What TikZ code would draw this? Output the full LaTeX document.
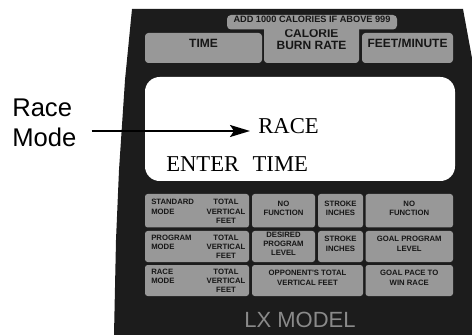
\documentclass[tikz,border=0pt]{standalone}
\usepackage{fontspec}
\setmainfont{Liberation Serif}
\newfontfamily\arial{Liberation Sans}
\usetikzlibrary{fit,arrows.meta}
\definecolor{panel}{RGB}{28,28,28}
\definecolor{keygrey}{RGB}{152,152,152}
\definecolor{ink}{RGB}{22,22,22}
\definecolor{lxgrey}{RGB}{138,138,138}
\tikzset{
  key/.style={fill=keygrey, rounded corners=2.5pt, inner sep=0pt, text=ink, align=center,
    font=\arial\bfseries\fontsize{9}{9.6}\selectfont},
  cell/.style={fill=keygrey, rounded corners=2pt, inner sep=0pt, text=ink, align=center,
    font=\arial\bfseries\fontsize{5.8}{6.9}\selectfont},
  celltxt/.style={inner sep=0pt, text=ink,
    font=\arial\bfseries\fontsize{5.8}{6.9}\selectfont},
  lcd/.style={inner sep=0pt, text=black, font=\fontsize{17}{20}\selectfont},
  pointer/.style={line width=1.5pt, -{Stealth[length=15pt,width=9pt,inset=3pt]}},
}
\begin{document}
\begin{tikzpicture}[x=0.75pt,y=-0.75pt]
\useasboundingbox (0,0) rectangle (472,335);
% panel
\fill[panel] (132,9) -- (463,9) -- (472,58) -- (472,335) -- (114,335)
  -- (116,240) -- (119,170) -- (125,80) -- cycle;
% top keys
\node[key, fit={(264,24) (359,63)}] (calorie) {CALORIE\\BURN RATE};
\node[key, rounded corners=3pt, fit={(227,15) (397,29.5)}, font=\arial\bfseries\fontsize{6.9}{7}\selectfont] (add) {ADD 1000 CALORIES IF ABOVE 999};
\node[key, fit={(145,33) (262,63)}] (time) {TIME};
\node[key, fit={(362,33) (453,63)}] (feet) {FEET/MINUTE};
% display
\node[fill=white, rounded corners=11pt, inner sep=0pt, fit={(145,77) (455,181)}] (display) {};
\node[lcd, anchor=base west] (race) at (258,133.5) {RACE};
\node[lcd, anchor=base west] (enter) at (166,171.5) {ENTER\hspace{10pt}TIME};
% left label
\node[inner sep=0pt, align=left, anchor=north west, font=\arial\fontsize{19.2}{22.5}\selectfont]
  (label) at (12,98.3) {Race\\Mode};
\coordinate (tip) at (250,131);
\draw[pointer] (label.east |- tip) ++(15,0) -- (tip);
% grid row 1
\node[cell, fit={(145,194) (249,227.5)}] (r1c1) {};
\node[cell, fit={(252,194) (315,227.5)}] (r1c2) {NO\\FUNCTION};
\node[cell, fit={(318,194) (363,227.5)}] (r1c3) {STROKE\\INCHES};
\node[cell, fit={(365.5,194) (453,227.5)}] (r1c4) {NO\\FUNCTION};
% grid row 2
\node[cell, fit={(145,231) (249,262)}] (r2c1) {};
\node[cell, fit={(252,231) (315,262)}] (r2c2) {DESIRED\\PROGRAM\\LEVEL};
\node[cell, fit={(318,231) (363,262)}] (r2c3) {STROKE\\INCHES};
\node[cell, fit={(365.5,231) (453,262)}] (r2c4) {GOAL PROGRAM\\LEVEL};
% grid row 3
\node[cell, fit={(145,265) (249,296)}] (r3c1) {};
\node[cell, fit={(252,265) (363,296)}] (r3c2) {OPPONENT'S TOTAL\\VERTICAL FEET};
\node[cell, fit={(365.5,265) (453,296)}] (r3c4) {GOAL PACE TO\\WIN RACE};
% column 1 texts
\node[celltxt, align=left, anchor=north west] (m1) at (151,199.3) {STANDARD\\MODE};
\node[celltxt, align=center, anchor=north] (t1) at (226,199.3) {TOTAL\\VERTICAL\\FEET};
\node[celltxt, align=left, anchor=north west] (m2) at (151,234.5) {PROGRAM\\MODE};
\node[celltxt, align=center, anchor=north] (t2) at (226,234.5) {TOTAL\\VERTICAL\\FEET};
\node[celltxt, align=left, anchor=north west] (m3) at (151,268.5) {RACE\\MODE};
\node[celltxt, align=center, anchor=north] (t3) at (226,268.5) {TOTAL\\VERTICAL\\FEET};
% model name
\node[inner sep=0pt, anchor=base, text=lxgrey, font=\arial\fontsize{16.5}{18}\selectfont] (model) at (300,327) {LX MODEL};
\end{tikzpicture}
\end{document}
